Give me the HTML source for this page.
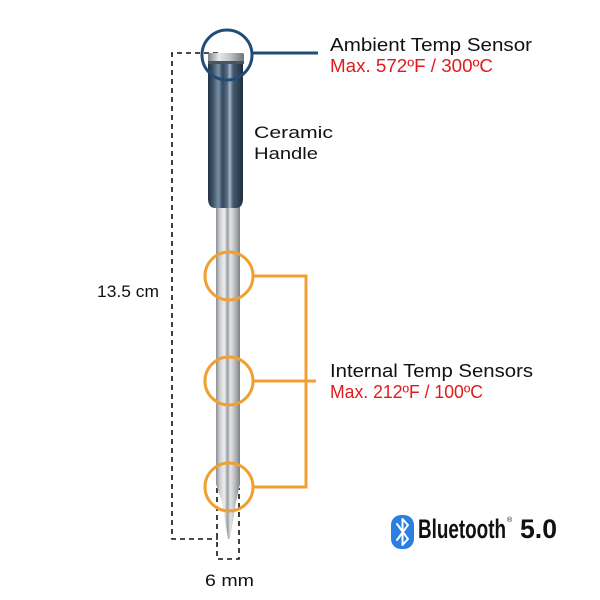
<!DOCTYPE html>
<html><head><meta charset="utf-8"><style>
html,body{margin:0;padding:0;background:#fff;}
svg{display:block;}
text{font-family:"Liberation Sans",sans-serif;}
</style></head><body>
<svg width="600" height="600" viewBox="0 0 600 600" xmlns="http://www.w3.org/2000/svg">
<defs>
<linearGradient id="hg" x1="0" x2="1" y1="0" y2="0">
<stop offset="0" stop-color="#223243"/>
<stop offset="0.15" stop-color="#40566b"/>
<stop offset="0.3" stop-color="#7b90a4"/>
<stop offset="0.42" stop-color="#34495d"/>
<stop offset="0.55" stop-color="#566d84"/>
<stop offset="0.62" stop-color="#a4b5c5"/>
<stop offset="0.72" stop-color="#435a6f"/>
<stop offset="0.9" stop-color="#2c3f52"/>
<stop offset="1" stop-color="#1e2b39"/>
</linearGradient>
<linearGradient id="sg" x1="0" x2="1" y1="0" y2="0">
<stop offset="0" stop-color="#8a8d91"/>
<stop offset="0.15" stop-color="#c9cbce"/>
<stop offset="0.35" stop-color="#eeeff0"/>
<stop offset="0.48" stop-color="#9a9da1"/>
<stop offset="0.6" stop-color="#e4e5e7"/>
<stop offset="0.8" stop-color="#b5b8bb"/>
<stop offset="1" stop-color="#7c8084"/>
</linearGradient>
<linearGradient id="cg" x1="0" x2="1" y1="0" y2="0">
<stop offset="0" stop-color="#7d8084"/>
<stop offset="0.3" stop-color="#e8e9ea"/>
<stop offset="0.6" stop-color="#c4c6c8"/>
<stop offset="1" stop-color="#6f7276"/>
</linearGradient>
</defs>

<g fill="none" stroke="#111" stroke-width="1.6" stroke-dasharray="5,4">
<path d="M218 53 H172 V539 H218"/>
<path d="M217 488 V559 H239 V488"/>
</g>

<rect x="216" y="205" width="24" height="280" fill="url(#sg)"/>
<path d="M216 484 L240 484 L236 502 L230 539 L228 539 L222 502 Z" fill="url(#sg)"/>

<path d="M208 62 H243 V198 Q243 208 236 208 H215 Q208 208 208 198 Z" fill="url(#hg)"/>
<rect x="208" y="53" width="36" height="10" rx="2" fill="url(#cg)"/>
<rect x="208" y="61" width="36" height="3" fill="#4a5560"/>

<circle cx="227" cy="55" r="25" fill="none" stroke="#1f4d78" stroke-width="3"/>
<line x1="252" y1="53" x2="318" y2="53" stroke="#1f4d78" stroke-width="3"/>

<g fill="none" stroke="#f0a030" stroke-width="3">
<circle cx="229" cy="276" r="24"/>
<circle cx="229" cy="381" r="24"/>
<circle cx="229" cy="487" r="24"/>
<path d="M253 276 H306 V487 H253"/>
<line x1="253" y1="381" x2="316" y2="381"/>
</g>

<text x="330" y="51" font-size="18" fill="#111" textLength="202" lengthAdjust="spacingAndGlyphs">Ambient Temp Sensor</text>
<text x="330" y="72" font-size="18" fill="#e01b1b" textLength="163" lengthAdjust="spacingAndGlyphs">Max. 572ºF / 300ºC</text>

<text x="254" y="138" font-size="17" fill="#111" textLength="79" lengthAdjust="spacingAndGlyphs">Ceramic</text>
<text x="254" y="159" font-size="17" fill="#111" textLength="64" lengthAdjust="spacingAndGlyphs">Handle</text>

<text x="97" y="297" font-size="17" fill="#111" textLength="62" lengthAdjust="spacingAndGlyphs">13.5 cm</text>

<text x="330" y="377" font-size="18" fill="#111" textLength="203" lengthAdjust="spacingAndGlyphs">Internal Temp Sensors</text>
<text x="330" y="398" font-size="18" fill="#e01b1b" textLength="153" lengthAdjust="spacingAndGlyphs">Max. 212ºF / 100ºC</text>

<text x="205" y="586" font-size="17" fill="#111" textLength="49" lengthAdjust="spacingAndGlyphs">6 mm</text>

<rect x="391" y="515" width="23" height="34" rx="10" fill="#2a7fe0"/>
<path d="M397 524 L408 539 L402.5 545 V519 L408 525 L397 540" fill="none" stroke="#fff" stroke-width="2" stroke-linejoin="round" stroke-linecap="round"/>
<text x="418" y="538" font-size="27" font-weight="bold" fill="#111" textLength="88" lengthAdjust="spacingAndGlyphs">Bluetooth</text>
<text x="507" y="522" font-size="7" fill="#111">®</text>
<text x="520" y="538" font-size="27" font-weight="bold" fill="#111" textLength="37" lengthAdjust="spacingAndGlyphs">5.0</text>
</svg>
</body></html>
